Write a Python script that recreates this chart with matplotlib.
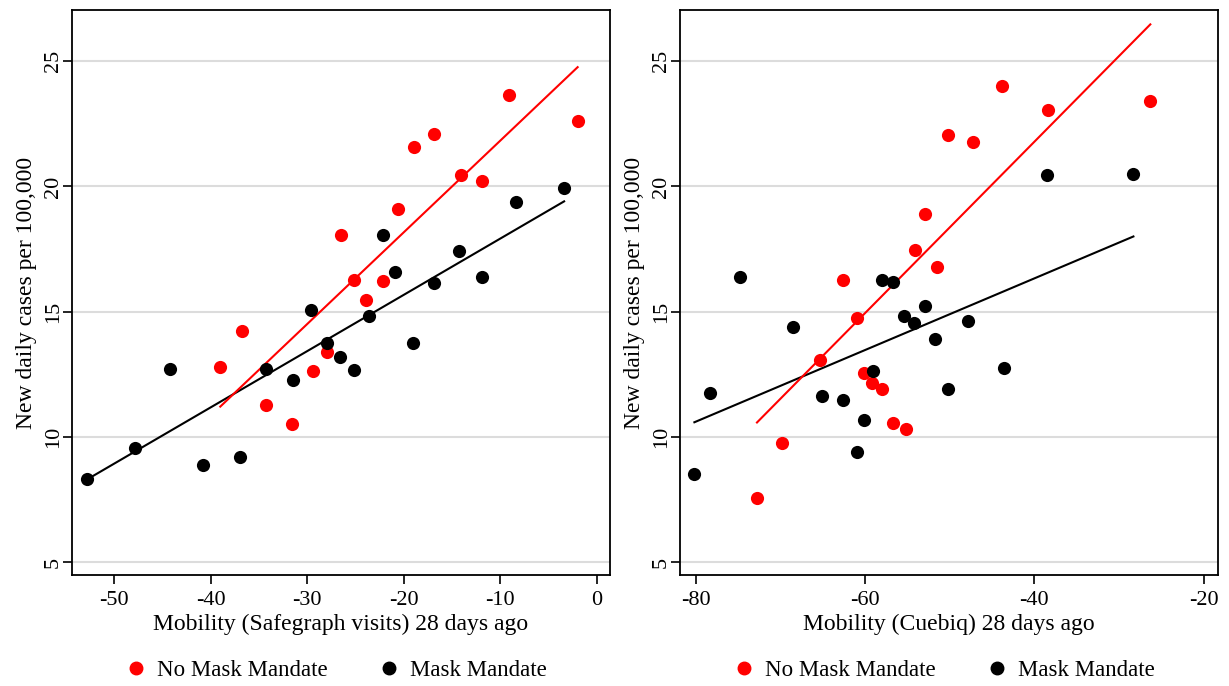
import numpy as np
import matplotlib
matplotlib.use("Agg")
import matplotlib.pyplot as plt
from matplotlib.lines import Line2D

plt.rcParams['font.family'] = ['Liberation Serif', 'DejaVu Serif']
plt.rcParams['axes.unicode_minus'] = False

# Left panel: Safegraph visits
sg_nomask_x = [-39.0, -36.7, -34.3, -31.6, -29.4, -28.0, -26.5, -25.2, -23.9, -22.2,
               -20.6, -18.9, -16.9, -14.1, -11.9, -9.1, -2.0]
sg_nomask_y = [12.8, 14.24, 11.29, 10.5, 12.64, 13.38, 18.08, 16.28, 15.48, 16.23,
               19.11, 21.59, 22.11, 20.44, 20.21, 23.65, 22.63]
sg_mask_x = [-52.8, -47.8, -44.2, -40.8, -37.0, -34.3, -31.5, -29.6, -27.9, -26.6,
             -25.2, -23.6, -22.2, -20.9, -19.0, -16.9, -14.3, -11.9, -8.4, -3.4]
sg_mask_y = [8.31, 9.57, 12.72, 8.89, 9.21, 12.69, 12.25, 15.05, 13.76, 13.17,
             12.66, 14.81, 18.08, 16.59, 13.73, 16.15, 17.44, 16.4, 19.39, 19.92]
# linear fits (intercept, slope) as shown in the figure
sg_nomask_fit = (25.50, 0.3665)
sg_mask_fit = (20.17, 0.2249)

# Right panel: Cuebiq
cq_nomask_x = [-72.8, -69.9, -65.4, -62.6, -61.0, -60.1, -59.2, -58.0, -56.7, -55.2,
               -54.1, -52.9, -51.5, -50.2, -47.3, -43.8, -38.4, -26.3]
cq_nomask_y = [7.55, 9.77, 13.06, 16.28, 14.76, 12.53, 12.16, 11.93, 10.57, 10.33,
               17.45, 18.91, 16.77, 22.07, 21.76, 24.0, 23.07, 23.43]
cq_mask_x = [-80.2, -78.4, -74.8, -68.6, -65.1, -62.6, -61.0, -60.1, -59.1, -58.0,
             -56.7, -55.4, -54.2, -52.9, -51.7, -50.2, -47.8, -43.6, -38.5, -28.3]
cq_mask_y = [8.5, 11.74, 16.39, 14.39, 11.62, 11.49, 9.41, 10.67, 12.61, 16.25,
             16.17, 14.81, 14.56, 15.23, 13.91, 11.93, 14.63, 12.73, 20.47, 20.51]
cq_nomask_fit = (35.47, 0.342)
cq_mask_fit = (22.05, 0.143)

y_ticks = [5, 10, 15, 20, 25]
sg_xticks = [-50, -40, -30, -20, -10, 0]
cq_xticks = [-80, -60, -40, -20]

RED = '#ff0000'
BLACK = '#000000'

W, H = 1229, 686
fig = plt.figure(figsize=(W / 100, H / 100), dpi=100)
ax1 = fig.add_axes([72 / W, (H - 575) / H, 538 / W, 565 / H])
ax2 = fig.add_axes([680 / W, (H - 575) / H, 538 / W, 565 / H])


def draw_panel(ax, nx, ny, mx, my, nfit, mfit, xticks, xlim, xlabel):
    for x, fit, c in [(mx, mfit, BLACK), (nx, nfit, RED)]:
        xs = np.array([min(x), max(x)])
        ax.plot(xs, fit[0] + fit[1] * xs, color=c, lw=1.5, zorder=3)
    ax.scatter(nx, ny, s=90, color=RED, zorder=4, linewidths=0)
    ax.scatter(mx, my, s=90, color=BLACK, zorder=4, linewidths=0)
    ax.set_ylim(4.48, 27.05)
    ax.set_xlim(*xlim)
    ax.set_yticks(y_ticks)
    ax.set_xticks(xticks)
    ax.grid(axis='y', color='#dcdcdc', lw=1.5, zorder=0)
    ax.set_axisbelow(True)
    ax.tick_params(axis='y', labelrotation=90, length=6.5, width=1.2, labelsize=16, pad=0)
    ax.tick_params(axis='x', length=6.5, width=1.2, labelsize=16, pad=5)
    for lab in ax.get_yticklabels():
        lab.set_va('center')
    for sp in ax.spines.values():
        sp.set_linewidth(1.3)
    ax.set_xlabel(xlabel, fontsize=17, labelpad=3)
    ax.set_ylabel('New daily cases per 100,000', fontsize=17, labelpad=5)


draw_panel(ax1, sg_nomask_x, sg_nomask_y, sg_mask_x, sg_mask_y, sg_nomask_fit, sg_mask_fit,
           sg_xticks, (-54.35, 1.35), 'Mobility (Safegraph visits) 28 days ago')
draw_panel(ax2, cq_nomask_x, cq_nomask_y, cq_mask_x, cq_mask_y, cq_nomask_fit, cq_mask_fit,
           cq_xticks, (-81.9, -18.3), 'Mobility (Cuebiq) 28 days ago')

handles = [Line2D([], [], marker='o', ls='', color=RED, markersize=9, label='No Mask Mandate'),
           Line2D([], [], marker='o', ls='', color=BLACK, markersize=9, label='Mask Mandate')]
for cx in [0.273, 0.768]:
    fig.legend(handles=handles, loc='center', bbox_to_anchor=(cx, 0.022), ncol=2,
               frameon=False, fontsize=16.5, handletextpad=0.4, columnspacing=2.2,
               handlelength=1.0)

fig.savefig('out.png', dpi=100)
